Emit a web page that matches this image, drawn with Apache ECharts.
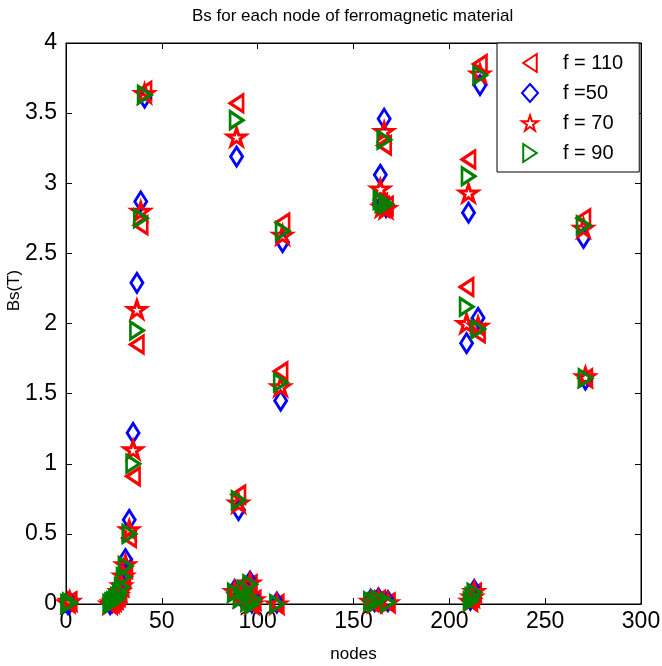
<!DOCTYPE html>
<html>
<head>
<meta charset="utf-8">
<script src="https://cdn.jsdelivr.net/npm/echarts@6/dist/echarts.min.js"></script>
<style>
  html, body { margin: 0; padding: 0; background: #fff; }
  #chart { width: 662px; height: 666px; }
</style>
</head>
<body>
<div id="chart"></div>
<script>
// Node index of each measurement point
const nodes = [
  1, 2,
  23, 24, 25, 26, 27, 28, 29, 30, 31, 33, 35, 37, 39, 41,
  88, 89, 90, 91, 93, 95, 96, 97, 98,
  110, 112, 113,
  159, 161, 163, 164, 165, 166, 167, 168,
  209, 210, 211, 212, 213, 215, 216,
  270, 271
];

// Saturation flux density Bs (T) at each node, one array per frequency
const bs110 = [
  0.01, 0.02,
  0.00, 0.01, 0.02, 0.03, 0.05, 0.08, 0.12, 0.19, 0.25, 0.47, 0.91, 1.85, 2.70, 3.66,
  0.08, 3.57, 0.78, 0.04, 0.10, 0.02, 0.14, 0.00, 0.03,
  0.00, 1.66, 2.72,
  0.02, 0.01, 0.03, 2.86, 2.84, 3.27, 2.84, 0.01,
  2.26, 3.17, 0.02, 0.05, 0.08, 1.93, 3.85,
  2.75, 1.61
];
const bs50 = [
  0.00, 0.01,
  0.00, 0.01, 0.03, 0.05, 0.07, 0.10, 0.15, 0.22, 0.32, 0.60, 1.22, 2.29, 2.87, 3.61,
  0.10, 3.19, 0.67, 0.06, 0.12, 0.03, 0.16, 0.01, 0.04,
  0.01, 1.45, 2.58,
  0.03, 0.02, 0.04, 3.06, 2.85, 3.46, 2.83, 0.02,
  1.86, 2.79, 0.03, 0.06, 0.10, 2.04, 3.70,
  2.61, 1.60
];
const bs70 = [
  0.01, 0.02,
  0.00, 0.01, 0.02, 0.04, 0.06, 0.09, 0.13, 0.20, 0.28, 0.53, 1.10, 2.10, 2.80, 3.64,
  0.09, 3.33, 0.72, 0.05, 0.11, 0.02, 0.15, 0.00, 0.03,
  0.00, 1.55, 2.63,
  0.02, 0.01, 0.03, 2.96, 2.83, 3.37, 2.82, 0.01,
  2.00, 2.93, 0.02, 0.05, 0.09, 1.98, 3.78,
  2.68, 1.62
];
const bs90 = [
  0.00, 0.01,
  0.00, 0.01, 0.02, 0.03, 0.05, 0.08, 0.12, 0.19, 0.27, 0.50, 1.00, 1.95, 2.75, 3.63,
  0.08, 3.45, 0.74, 0.04, 0.10, 0.02, 0.14, 0.00, 0.03,
  0.00, 1.58, 2.66,
  0.02, 0.01, 0.03, 2.88, 2.86, 3.31, 2.85, 0.01,
  2.12, 3.05, 0.02, 0.05, 0.08, 1.96, 3.77,
  2.70, 1.61
];

const seriesNames = ['f = 110', 'f =50', 'f = 70', 'f = 90'];
const xTicks = { min: 0, max: 300, step: 50 };
const yTicks = { min: 0, max: 4, step: 0.5 };

const FONT = 'Liberation Sans, Arial, Helvetica, sans-serif';
const HOLLOW = 'rgba(255,255,255,0)';

const SYM_LEFT = 'path://M12,0 L0,8 L12,16 Z';
const SYM_RIGHT = 'path://M0,0 L12,8 L0,16 Z';
const SYM_STAR = 'path://M50,0 L61.23,34.55 L97.55,34.55 L68.16,55.9 L79.39,90.45 L50,69.1 L20.61,90.45 L31.84,55.9 L2.45,34.55 L38.77,34.55 Z';

function pairs(ys) { return nodes.map((n, i) => [n, ys[i]]); }

function scatter(name, ys, symbol, size, color, width) {
  return {
    type: 'scatter',
    name: name,
    data: pairs(ys),
    symbol: symbol,
    symbolSize: size,
    xAxisIndex: 0,
    yAxisIndex: 0,
    itemStyle: { color: HOLLOW, borderColor: color, borderWidth: width, opacity: 1 },
    emphasis: { disabled: true },
    animation: false
  };
}

const chart = echarts.init(document.getElementById('chart'), null, { renderer: 'canvas' });

const tickStyle = { show: true, inside: true, length: 6, lineStyle: { color: '#000', width: 1 } };
const lineStyle = { show: true, onZero: false, lineStyle: { color: '#000', width: 1 } };

chart.setOption({
  backgroundColor: '#fff',
  animation: false,
  title: {
    text: 'Bs for each node of ferromagnetic material',
    left: 187,
    top: 3,
    textStyle: { fontFamily: FONT, fontSize: 17, fontWeight: 'normal', color: '#000' }
  },
  grid: {
    left: 66, right: 21, top: 43, bottom: 62,
    outerBoundsMode: 'none',
    containLabel: false,
    show: true, borderColor: '#000', borderWidth: 1, backgroundColor: '#fff'
  },
  legend: {
    orient: 'vertical',
    left: 497,
    top: 43,
    padding: [10, 16, 9, 24],
    itemGap: 10,
    itemWidth: 16,
    itemHeight: 18,
    backgroundColor: '#fff',
    borderColor: '#000',
    borderWidth: 1,
    borderRadius: 0,
    data: seriesNames,
    textStyle: { fontFamily: FONT, fontSize: 20, lineHeight: 20, color: '#000', padding: [0, 0, 0, 20] }
  },
  xAxis: [
    {
      type: 'value', min: xTicks.min, max: xTicks.max, interval: xTicks.step,
      position: 'bottom',
      name: 'nodes', nameLocation: 'middle', nameGap: 42,
      nameMoveOverlap: false,
      nameTextStyle: { fontFamily: FONT, fontSize: 17, color: '#000' },
      axisLine: lineStyle, axisTick: tickStyle,
      axisLabel: { fontFamily: FONT, fontSize: 23, color: '#000', margin: 6 },
      splitLine: { show: false }
    },
    {
      type: 'value', min: xTicks.min, max: xTicks.max, interval: xTicks.step,
      position: 'top',
      axisLine: lineStyle, axisTick: tickStyle,
      axisLabel: { show: false }, splitLine: { show: false }
    }
  ],
  yAxis: [
    {
      type: 'value', min: yTicks.min, max: yTicks.max, interval: yTicks.step,
      position: 'left',
      name: 'Bs(T)', nameLocation: 'middle', nameGap: 43,
      nameMoveOverlap: false,
      nameTextStyle: { fontFamily: FONT, fontSize: 17, color: '#000', padding: [0, 0, 0, 66] },
      axisLine: lineStyle, axisTick: tickStyle,
      axisLabel: { fontFamily: FONT, fontSize: 23, color: '#000', margin: 9 },
      splitLine: { show: false }
    },
    {
      type: 'value', min: yTicks.min, max: yTicks.max, interval: yTicks.step,
      position: 'right',
      axisLine: lineStyle, axisTick: tickStyle,
      axisLabel: { show: false }, splitLine: { show: false }
    }
  ],
  series: [
    scatter(seriesNames[0], bs110, SYM_LEFT, [13, 17], '#ff0000', 3),
    scatter(seriesNames[1], bs50, 'diamond', [12, 19], '#0000ff', 3),
    scatter(seriesNames[2], bs70, SYM_STAR, [18, 17], '#ff0000', 3),
    scatter(seriesNames[3], bs90, SYM_RIGHT, [13, 17], '#008000', 3)
  ]
});
</script>
</body>
</html>
